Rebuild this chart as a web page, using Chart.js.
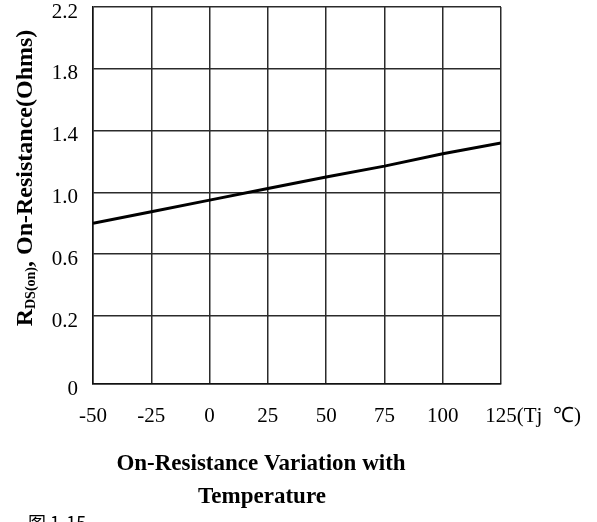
<!DOCTYPE html>
<html>
<head>
<meta charset="utf-8">
<script src="https://cdn.jsdelivr.net/npm/chart.js@4.4.1/dist/chart.umd.min.js"></script>
<style>
  html, body { margin: 0; padding: 0; background: #fff; }
  canvas { display: block; }
</style>
</head>
<body>
<canvas id="rdsChart" width="597" height="522"></canvas>
<script>
// temperature (Tj, °C) and on-resistance (Ohms)
const tempC = [-50, -25, 0, 25, 50, 75, 100, 125];
const rdsOn = [0.80, 0.875, 0.95, 1.025, 1.10, 1.17, 1.25, 1.32];

// y gridlines: bottom one is labelled "0" but sits a bit below 0.2
const yTicks = [-0.24, 0.2, 0.6, 1.0, 1.4, 1.8, 2.2];
const xUnit = "(Tj  \u2103)";
const titleLines = ["On-Resistance Variation with", "Temperature"];
const figLabel = "\u56fe 1-15";

const serif = "'Liberation Serif', 'Times New Roman', serif";

const extraText = {
  id: "extraText",
  afterDraw(chart) {
    const ctx = chart.ctx;
    const xs = chart.scales.x;
    ctx.save();
    ctx.fillStyle = "#000";

    // unit after the last x label
    const items = xs.getLabelItems();
    const last = items[items.length - 1];
    if (last) {
      ctx.font = "21px " + serif;
      const w = ctx.measureText(String(last.label)).width;
      ctx.textAlign = "left";
      ctx.textBaseline = last.options.textBaseline;
      ctx.fillText(xUnit, last.options.translation[0] + w / 2, last.options.translation[1] + last.textOffset);
    }

    // y axis title with subscript
    ctx.save();
    ctx.translate(24, 178);
    ctx.rotate(-Math.PI / 2);
    const parts = [
      { t: "R", f: "bold 24px " + serif, dy: 0 },
      { t: "DS(on)", f: "bold 14px " + serif, dy: 3 },
      { t: ", On-Resistance(Ohms)", f: "bold 24px " + serif, dy: 0 }
    ];
    let total = 0;
    parts.forEach(p => { ctx.font = p.f; p.w = ctx.measureText(p.t).width; total += p.w; });
    let x = -total / 2;
    ctx.textAlign = "left";
    ctx.textBaseline = "alphabetic";
    parts.forEach(p => { ctx.font = p.f; ctx.fillText(p.t, x, 8 + p.dy); x += p.w; });
    ctx.restore();

    // caption under the chart
    ctx.font = "bold 23px " + serif;
    ctx.textAlign = "center";
    ctx.textBaseline = "middle";
    ctx.fillText(titleLines[0], 261, 464);
    ctx.fillText(titleLines[1], 262, 497);

    ctx.font = "18px 'Noto Sans CJK SC', " + serif;
    ctx.textAlign = "left";
    ctx.textBaseline = "alphabetic";
    ctx.fillText(figLabel, 28, 530);
    ctx.restore();
  }
};

new Chart(document.getElementById("rdsChart"), {
  type: "line",
  data: {
    labels: tempC,
    datasets: [{
      label: "RDS(on)",
      data: tempC.map((t, i) => ({ x: t, y: rdsOn[i] })),
      borderColor: "#000",
      borderWidth: 3,
      pointRadius: 0,
      fill: false,
      tension: 0
    }]
  },
  options: {
    responsive: false,
    animation: false,
    layout: { padding: { left: 0, right: 96, top: 7, bottom: 0 } },
    plugins: { legend: { display: false }, tooltip: { enabled: false }, title: { display: false } },
    scales: {
      x: {
        type: "linear",
        min: -50,
        max: 125,
        afterFit: s => { s.height = 138; },
        ticks: { stepSize: 25, color: "#000", padding: 20, font: { family: serif, size: 21 } },
        grid: { color: "#2b2b2b", lineWidth: 1.5, drawTicks: false },
        border: { color: "#111", width: 1.5 }
      },
      y: {
        min: -0.24,
        max: 2.2,
        afterFit: s => { s.width = 93; s.paddingTop = 0; s.paddingBottom = 0; },
        afterBuildTicks: s => { s.ticks = yTicks.map(v => ({ value: v })); },
        ticks: {
          color: "#000",
          padding: 15,
          labelOffset: 5,
          font: { family: serif, size: 21 },
          callback: v => (v < 0 ? "0" : v.toFixed(1))
        },
        grid: { color: "#2b2b2b", lineWidth: 1.5, drawTicks: false },
        border: { color: "#111", width: 1.5 }
      }
    }
  },
  plugins: [extraText]
});
</script>
</body>
</html>
